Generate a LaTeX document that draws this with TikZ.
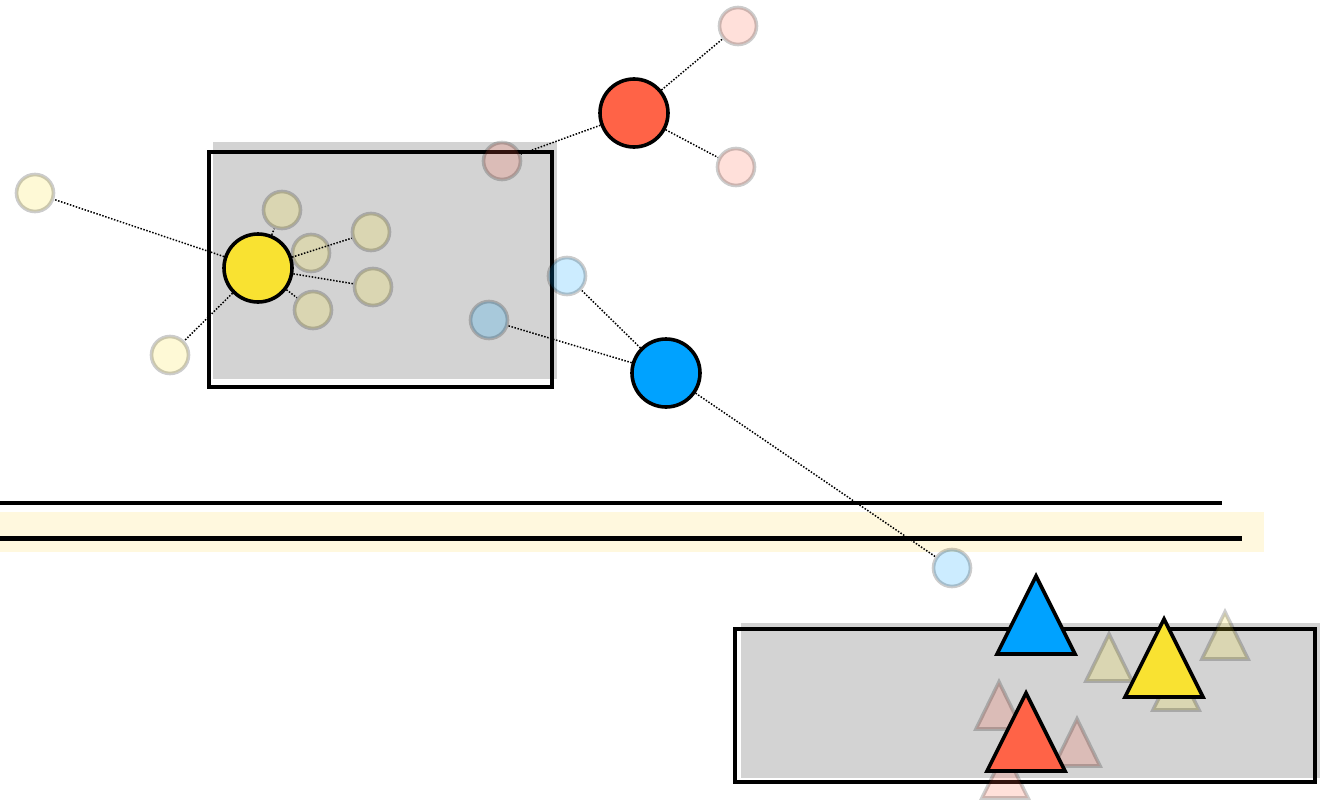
\documentclass[tikz,border=0pt]{standalone}
\usetikzlibrary{calc}
\definecolor{myyellow}{HTML}{F9E231}
\definecolor{myred}{HTML}{FF6347}
\definecolor{myblue}{HTML}{00A2FF}
\definecolor{band}{HTML}{FFF8DE}
\definecolor{boxgray}{HTML}{D3D3D3}
\tikzset{
  mainc/.style={circle, draw=black, line width=3.6pt, minimum size=68pt, inner sep=0pt},
  ghost/.style={circle, draw=black, draw opacity=0.2, fill opacity=0.2, line width=3.6pt, minimum size=37pt, inner sep=0pt},
  link/.style={line width=1.5pt, dash pattern=on 1.5pt off 1.6pt},
  maintri/.style={draw=black, line width=3.6pt},
  ghosttri/.style={draw=black, draw opacity=0.2, fill opacity=0.2, line width=3.6pt},
  graybox/.style={fill=boxgray},
  framebox/.style={draw=black, line width=3.6pt}
}
\begin{document}
\begin{tikzpicture}[x=1pt,y=-1pt]
\useasboundingbox (0,0) rectangle (1320,803);
% band and rules
\fill[band] (0,512) rectangle (1264,552);
\coordinate (l1a) at (0,503); \coordinate (l1b) at (1222,503);
\coordinate (l2a) at (0,538); \coordinate (l2b) at (1242,538);
\draw[line width=3.2pt] (l1a) -- (l1b);
\draw[line width=5pt] (l2a) -- (l2b);
% boxes
\fill[graybox] (213,142) rectangle (557,379);
\draw[framebox] (209,152) rectangle (552,387);
\fill[graybox] (741,623) rectangle (1320,778);
\draw[framebox] (735,629) rectangle (1315,782);
% ghost circles
\node[ghost, fill=myyellow] (y1) at (35,193) {};
\node[ghost, fill=myyellow] (y2) at (170,355) {};
\node[ghost, fill=myyellow] (y3) at (282,210) {};
\node[ghost, fill=myyellow] (y4) at (311,253) {};
\node[ghost, fill=myyellow] (y5) at (371,232) {};
\node[ghost, fill=myyellow] (y6) at (373,287) {};
\node[ghost, fill=myyellow] (y7) at (313,310) {};
\node[ghost, fill=myred] (r1) at (738,26) {};
\node[ghost, fill=myred] (r2) at (736,167) {};
\node[ghost, fill=myred] (r3) at (502,161) {};
\node[ghost, fill=myblue] (b1) at (567,276) {};
\node[ghost, fill=myblue] (b2) at (489,320) {};
\node[ghost, fill=myblue] (b3) at (952,568) {};
% ghost triangles
\draw[ghosttri, fill=myyellow] (1109,634) -- (1132,681) -- (1086,681) -- cycle;
\draw[ghosttri, fill=myyellow] (1225,612) -- (1248,659) -- (1202,659) -- cycle;
\draw[ghosttri, fill=myyellow] (1176,663) -- (1199,710) -- (1153,710) -- cycle;
\draw[ghosttri, fill=myred] (999,682) -- (1022,729) -- (976,729) -- cycle;
\draw[ghosttri, fill=myred] (1077,719) -- (1100,766) -- (1054,766) -- cycle;
\draw[ghosttri, fill=myred] (1005,751) -- (1028,798) -- (982,798) -- cycle;
% main circles
\node[mainc, fill=myyellow] (Y) at (258,268) {};
\node[mainc, fill=myred] (R) at (634,113) {};
\node[mainc, fill=myblue] (B) at (666,373) {};
% connectors
\draw[link] (Y) -- (y1);
\draw[link] (Y) -- (y2);
\draw[link] (Y) -- (y3);
\draw[link] (Y) -- (y5);
\draw[link] (Y) -- (y6);
\draw[link] (Y) -- (y7);
\draw[link] (R) -- (r1);
\draw[link] (R) -- (r2);
\draw[link] (R) -- (r3);
\draw[link] (B) -- (b1);
\draw[link] (B) -- (b2);
\draw[link] (B) -- (b3);
% main triangles
\draw[maintri, fill=myblue] (1036,576) -- (1075,654) -- (997,654) -- cycle;
\draw[maintri, fill=myyellow] (1164,619) -- (1203,697) -- (1125,697) -- cycle;
\draw[maintri, fill=myred] (1026,693) -- (1065,771) -- (987,771) -- cycle;
\end{tikzpicture}
\end{document}
